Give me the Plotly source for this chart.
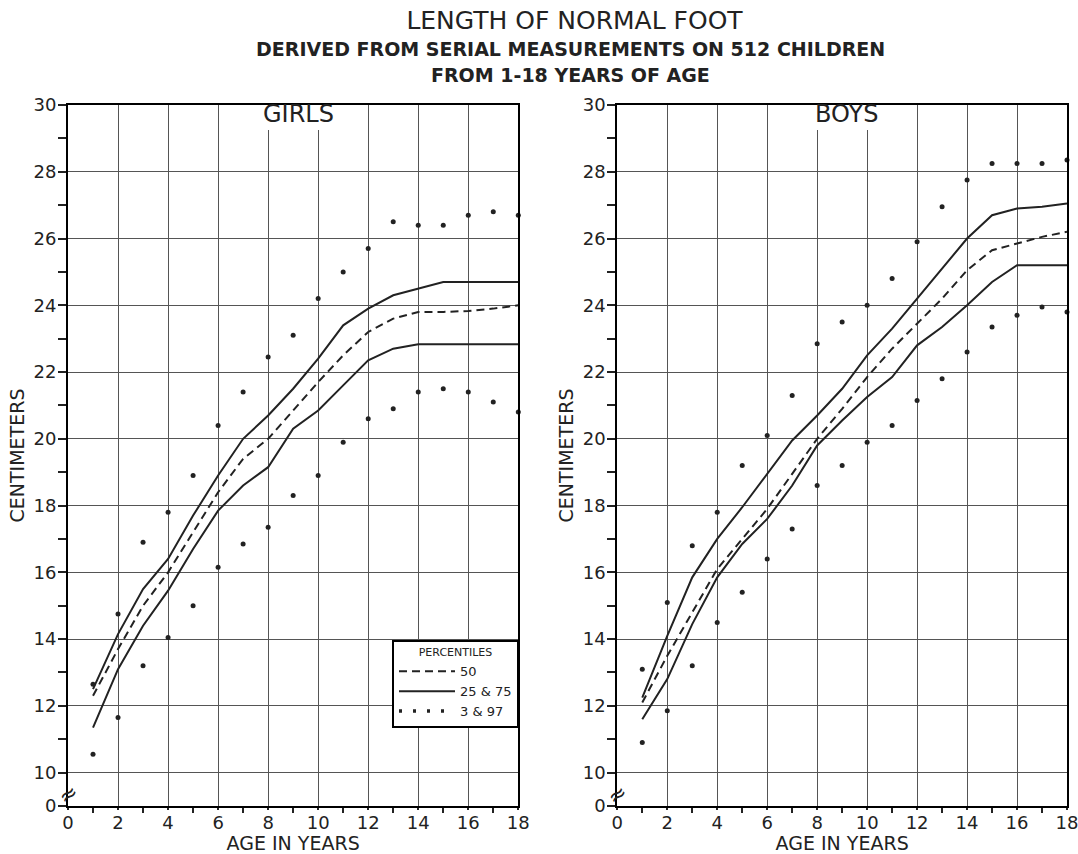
import plotly.graph_objects as go

# ---------------- data ----------------
ages = list(range(1, 19))

girls_p97 = [12.65, 14.75, 16.9, 17.8, 18.9, 20.4, 21.4, 22.45, 23.1, 24.2, 25.0, 25.7, 26.5, 26.4, 26.4, 26.7, 26.8, 26.7]
girls_p75 = [12.5, 14.15, 15.5, 16.4, 17.7, 18.9, 20.0, 20.7, 21.5, 22.4, 23.4, 23.9, 24.3, 24.5, 24.7, 24.7, 24.7, 24.7]
girls_p50 = [12.3, 13.7, 15.0, 16.0, 17.2, 18.4, 19.4, 20.0, 20.85, 21.7, 22.5, 23.2, 23.6, 23.8, 23.8, 23.83, 23.9, 24.0]
girls_p25 = [11.35, 13.1, 14.4, 15.45, 16.7, 17.85, 18.6, 19.15, 20.3, 20.85, 21.6, 22.35, 22.7, 22.83, 22.83, 22.83, 22.83, 22.83]
girls_p3 = [10.55, 11.65, 13.2, 14.05, 15.0, 16.15, 16.85, 17.35, 18.3, 18.9, 19.9, 20.6, 20.9, 21.4, 21.5, 21.4, 21.1, 20.8]

boys_p97 = [13.1, 15.1, 16.8, 17.8, 19.2, 20.1, 21.3, 22.85, 23.5, 24.0, 24.8, 25.9, 26.95, 27.75, 28.25, 28.25, 28.25, 28.35]
boys_p75 = [12.25, 14.1, 15.85, 17.0, 17.95, 18.95, 19.95, 20.7, 21.5, 22.5, 23.3, 24.2, 25.1, 26.0, 26.7, 26.9, 26.95, 27.05]
boys_p50 = [12.1, 13.5, 14.8, 16.1, 17.0, 17.9, 18.95, 20.0, 20.9, 21.85, 22.7, 23.45, 24.2, 25.05, 25.65, 25.85, 26.05, 26.2]
boys_p25 = [11.6, 12.8, 14.45, 15.85, 16.85, 17.6, 18.6, 19.8, 20.55, 21.25, 21.85, 22.8, 23.35, 24.0, 24.7, 25.2, 25.2, 25.2]
boys_p3 = [10.9, 11.85, 13.2, 14.5, 15.4, 16.4, 17.3, 18.6, 19.2, 19.9, 20.4, 21.15, 21.8, 22.6, 23.35, 23.7, 23.95, 23.8]

x_tickvals = [0, 2, 4, 6, 8, 10, 12, 14, 16, 18]
x_ticktext = ["0", "2", "4", "6", "8", "10", "12", "14", "16", "18"]
x_minor = [1, 3, 5, 7, 9, 11, 13, 15, 17]
y_tickvals = [9, 10, 12, 14, 16, 18, 20, 22, 24, 26, 28, 30]
y_ticktext = ["0", "10", "12", "14", "16", "18", "20", "22", "24", "26", "28", "30"]
y_minor = [11, 13, 15, 17, 19, 21, 23, 25, 27, 29]

# ---------------- style ----------------
FONT = "DejaVu Sans"
INK = "#222222"
GRID = "#555555"
W, H = 1078, 854

fig = go.Figure()

def panel(xa, ya, p3, p25, p50, p75, p97, legend):
    fig.add_trace(go.Scatter(x=ages, y=p50, mode="lines", name="50", legendgroup="p50",
                             showlegend=legend, xaxis=xa, yaxis=ya,
                             line=dict(color=INK, width=2, dash="8px,5px")))
    fig.add_trace(go.Scatter(x=ages, y=p75, mode="lines", name="25 & 75", legendgroup="p2575",
                             showlegend=legend, xaxis=xa, yaxis=ya,
                             line=dict(color=INK, width=2)))
    if legend:
        fig.add_trace(go.Scatter(x=[None], y=[None], mode="lines", name="3 & 97", legendgroup="p397",
                                 showlegend=True, xaxis=xa, yaxis=ya,
                                 line=dict(color=INK, width=3.5, dash="3px,11px")))
    fig.add_trace(go.Scatter(x=ages, y=p25, mode="lines", name="25", legendgroup="p2575",
                             showlegend=False, xaxis=xa, yaxis=ya,
                             line=dict(color=INK, width=2)))
    for s in (p3, p97):
        fig.add_trace(go.Scatter(x=ages, y=s, mode="markers", showlegend=False,
                                 xaxis=xa, yaxis=ya, cliponaxis=False,
                                 marker=dict(color=INK, size=5)))

panel("x", "y", girls_p3, girls_p25, girls_p50, girls_p75, girls_p97, True)
panel("x2", "y2", boys_p3, boys_p25, boys_p50, boys_p75, boys_p97, False)

Y0, Y1 = 1 - 806 / H, 1 - 105 / H
xcommon = dict(range=[0, 18], tickmode="array", tickvals=x_tickvals, ticktext=x_ticktext,
               automargin=False, ticklabeloverflow="allow",
               ticks="outside", ticklen=2, tickcolor=INK, tickwidth=1.5, ticklabelstandoff=-3,
               minor=dict(tickmode="array", tickvals=x_minor,
                          ticks="outside", ticklen=5, tickcolor=INK, tickwidth=1.5, showgrid=False),
               showgrid=True, gridcolor=GRID, gridwidth=1, zeroline=False,
               showline=True, linecolor="black", linewidth=2, mirror=True,
               tickfont=dict(family=FONT, size=18, color=INK),
               title=dict(text="AGE IN YEARS", font=dict(family=FONT, size=19, color=INK), standoff=6))
ycommon = dict(range=[9, 30], tickmode="array", tickvals=y_tickvals, ticktext=y_ticktext,
               automargin=False,
               ticks="outside", ticklen=8, tickcolor=INK, tickwidth=1.5, ticklabelstandoff=-2,
               minor=dict(tickmode="array", tickvals=y_minor, ticks="outside", ticklen=8,
                          tickcolor=INK, tickwidth=1.5, showgrid=False),
               showgrid=True, gridcolor=GRID, gridwidth=1, zeroline=False,
               showline=True, linecolor="black", linewidth=2, mirror=True,
               tickfont=dict(family=FONT, size=18, color=INK),
               title=dict(text="CENTIMETERS", font=dict(family=FONT, size=19, color=INK), standoff=4))

fig.update_layout(
    width=W, height=H,
    margin=dict(l=0, r=0, t=0, b=0, autoexpand=False),
    paper_bgcolor="white", plot_bgcolor="white",
    font=dict(family=FONT, color=INK),
    xaxis=dict(domain=[68 / W, 518.3 / W], anchor="y", **xcommon),
    yaxis=dict(domain=[Y0, Y1], anchor="x", **ycommon),
    xaxis2=dict(domain=[617.3 / W, 1067 / W], anchor="y2", **xcommon),
    yaxis2=dict(domain=[Y0, Y1], anchor="x2", **ycommon),
    title=dict(text="LENGTH OF NORMAL FOOT", x=574.5 / W, xanchor="center",
               y=1 - 20 / H, yanchor="middle", automargin=False,
               font=dict(family=FONT, size=25, color=INK)),
    legend=dict(x=392 / W, y=1 - 640 / H, xanchor="left", yanchor="top",
                bgcolor="white", bordercolor="black", borderwidth=2,
                font=dict(family=FONT, size=13, color=INK),
                title=dict(text="PERCENTILES", side="top center",
                           font=dict(family=FONT, size=11, color=INK)),
                itemwidth=56, tracegroupgap=0, traceorder="normal"),
    showlegend=True,
)

fig.add_annotation(text="<b>DERIVED FROM SERIAL MEASUREMENTS ON 512 CHILDREN</b>",
                   xref="paper", yref="paper", x=570 / W, y=1 - 48.5 / H,
                   xanchor="center", yanchor="middle", showarrow=False,
                   font=dict(family=FONT, size=19, color=INK))
fig.add_annotation(text="<b>FROM 1-18 YEARS OF AGE</b>",
                   xref="paper", yref="paper", x=570 / W, y=1 - 75 / H,
                   xanchor="center", yanchor="middle", showarrow=False,
                   font=dict(family=FONT, size=19, color=INK))

for xr, yr, name in (("x", "y", "GIRLS"), ("x2", "y2", "BOYS")):
    # white patch interrupting the gridlines under the panel title
    fig.add_shape(type="rect", xref=xr, yref=yr, x0=7.6, x1=10.8, y0=29.25, y1=30,
                  fillcolor="white", line=dict(width=0), layer="between")
    fig.add_annotation(text=name, xref=xr, yref=yr, x=9.2, y=30, xanchor="center",
                       yanchor="middle", yshift=-9, showarrow=False,
                       font=dict(family=FONT, size=24, color=INK))
    fig.add_annotation(text="≈", xref=xr, yref=yr, x=0, y=9.35, xanchor="center",
                       yanchor="middle", showarrow=False, textangle=-35,
                       font=dict(family=FONT, size=22, color=INK))

fig.write_html("out.html", config={"displayModeBar": False},
               post_script="document.body.style.margin='0';document.body.style.overflow='hidden';")
